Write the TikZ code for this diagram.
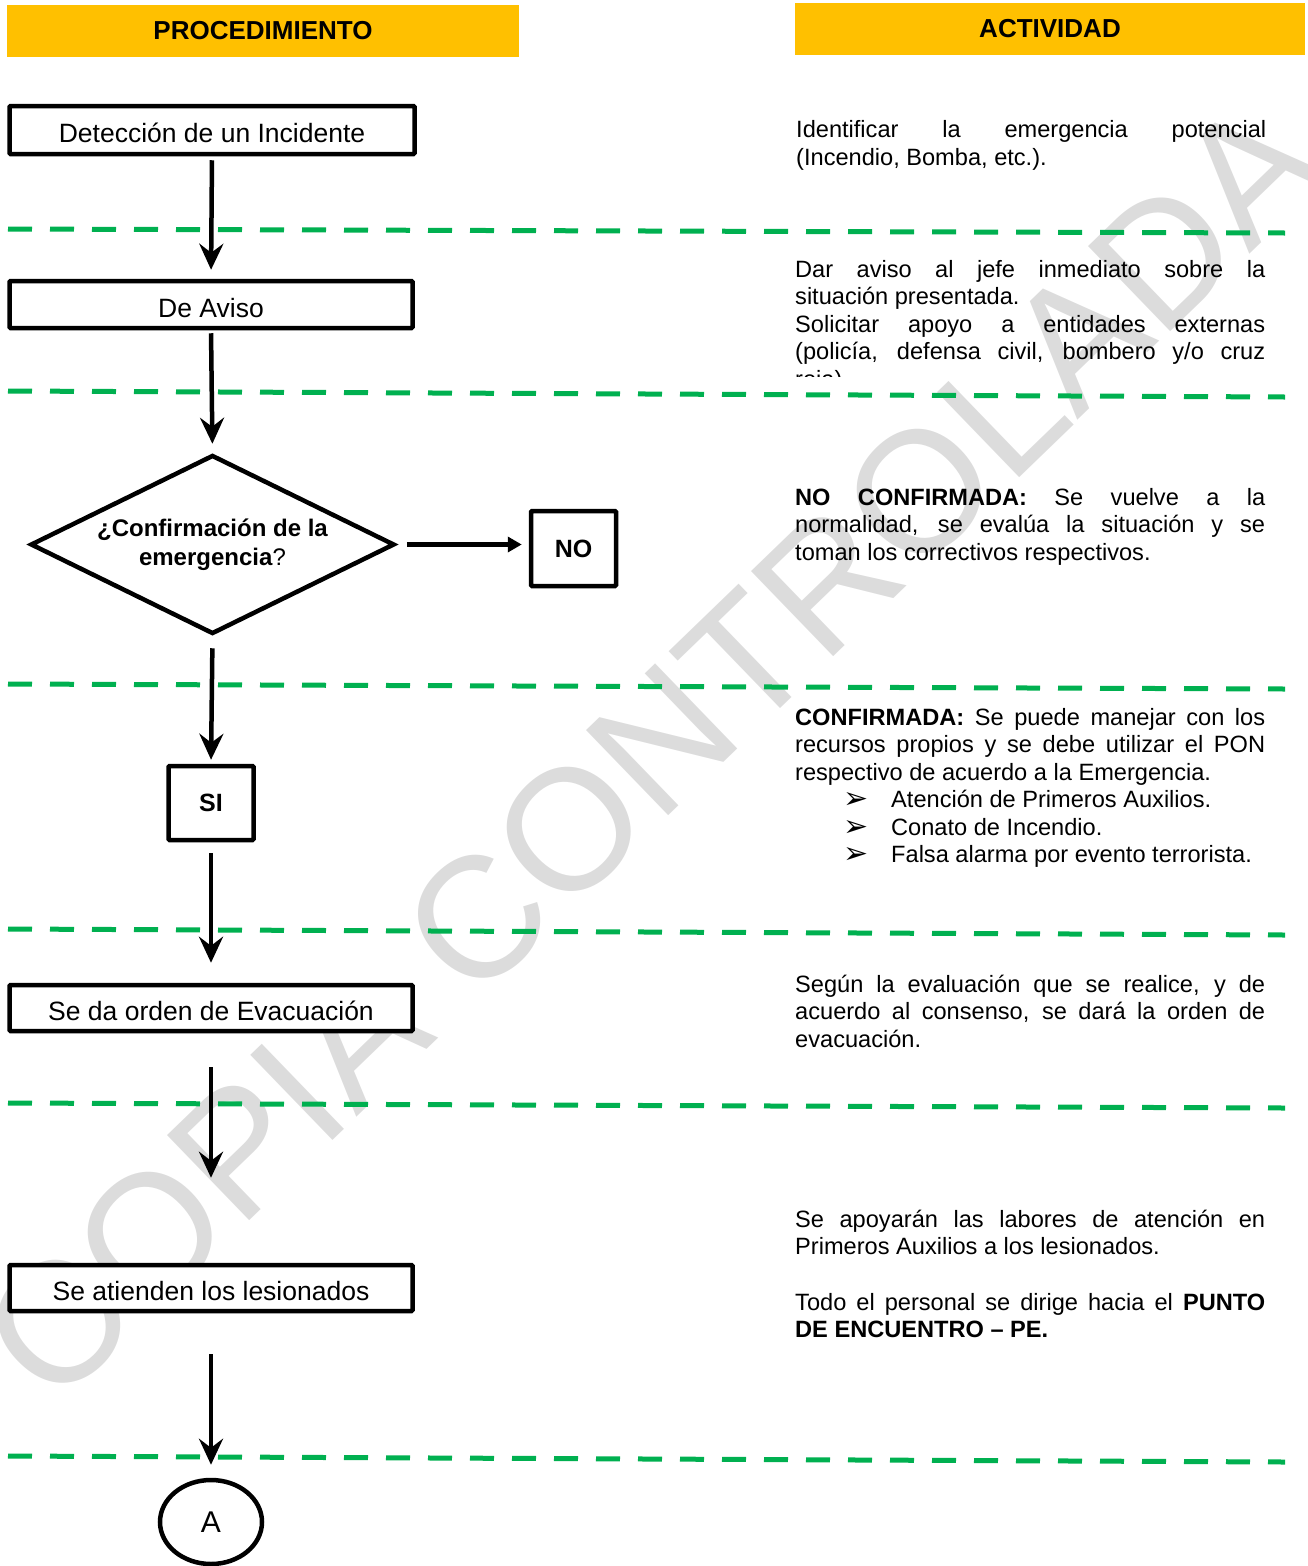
\documentclass[tikz,border=0pt]{standalone}
\usepackage{fontspec}
\setmainfont{Liberation Sans}
\newfontfamily\symbfont{DejaVu Sans}
\usetikzlibrary{shapes.geometric,arrows.meta}
\setlength{\parindent}{0pt}

\definecolor{headyellow}{HTML}{FFC000}
\definecolor{sepgreen}{HTML}{00B050}
\definecolor{markgray}{HTML}{DCDCDC}

\tikzset{
  procbox/.style={draw, line width=4.5pt, fill=white, rounded corners=1pt, minimum width=403pt, minimum height=47pt, inner sep=0pt, text height=25pt, text depth=0pt, font=\fontsize{26.5}{30}\selectfont},
  smallbox/.style={draw, line width=4.5pt, fill=white, rounded corners=1pt, minimum width=85pt, minimum height=75pt, inner sep=0pt, font=\fontsize{25}{30}\selectfont\bfseries},
  decision/.style={draw, diamond, shape aspect=2.03, line width=4.5pt, fill=white, minimum width=364pt, minimum height=179pt, inner sep=0pt, align=center, font=\fontsize{24}{29}\selectfont\bfseries},
  flow/.style={line width=4.5pt, -{Stealth[length=26pt,width=24pt,inset=9pt]}},
  sideflow/.style={line width=5pt, -{Triangle[length=14pt,width=15pt]}},
  separator/.style={sepgreen, line width=5pt, dash pattern=on 24pt off 18pt},
  header/.style={fill=headyellow, inner sep=0pt, minimum height=52pt, font=\fontsize{26}{30}\selectfont\bfseries},
  activity/.style={anchor=north west, inner sep=0pt, text width=470pt, align=justify, font=\fontsize{23.6}{27.5}\selectfont}
}

\newcommand{\arrowitem}[1]{\par\hspace*{48pt}\makebox[48pt][l]{\smash{\raisebox{-1pt}{\fontsize{30}{27.5}\selectfont\symbfont ➢}}}#1}

\begin{document}
\begin{tikzpicture}[x=1pt,y=-1pt]
    \useasboundingbox (0,0) rectangle (1308,1566);

    % Watermark
    \node[markgray, rotate=44, inner sep=0pt, font=\fontsize{172}{172}\selectfont] (watermark) at (652,750) {COPIA CONTROLADA};

    % Dashed separators
    \draw[separator] (8,229) -- (1285,233);
    \draw[separator] (8,391) -- (1285,397);
    \draw[separator] (8,684) -- (1285,689);
    \draw[separator] (8,929) -- (1285,935);
    \draw[separator] (8,1103) -- (1285,1108);
    \draw[separator] (8,1456) -- (1285,1462);

    % Column headers
    \node[header, minimum width=512pt] (procHead) at (263,31) {PROCEDIMIENTO};
    \node[header, minimum width=510pt] (actHead) at (1050,29) {ACTIVIDAD};

    % Procedure steps
    \node[procbox, minimum width=405pt, minimum height=48pt] (detect) at (212,130) {Detección de un Incidente};
    \node[procbox] (aviso) at (211,304.5) {De Aviso};
    \node[decision] (confirm) at (212.5,544.5) {¿Confirmación de la\\ emergencia\textmd{?}};
    \node[smallbox] (nobox) at (573.5,548.5) {NO};
    \node[smallbox, minimum height=74pt] (sibox) at (211,803) {SI};
    \node[procbox, minimum height=46pt] (evac) at (211,1008) {Se da orden de Evacuación};
    \node[procbox, minimum height=46pt] (lesion) at (211,1288) {Se atienden los lesionados};
    \node[draw, ellipse, line width=4.5pt, fill=white, minimum width=102pt, minimum height=84pt, inner sep=0pt, font=\fontsize{30}{30}\selectfont] (connA) at (211,1522) {A};

    % Flow arrows
    \draw[flow, shorten <=4pt, shorten >=9pt] (detect.south) -- (aviso.north);
    \draw[flow, shorten <=3pt, shorten >=9pt] (aviso.south) -- (confirm.north);
    \draw[flow, shorten <=12pt, shorten >=4pt] (confirm.south) -- (sibox.north);
    \draw[flow, shorten <=11pt, shorten >=20pt] (sibox.south) -- (evac.north);
    \draw[flow, shorten <=34pt, shorten >=85pt] (evac.south) -- (lesion.north);
    \draw[flow, shorten <=41pt, shorten >=13pt] (lesion.south) -- (connA.north);
    \draw[sideflow, shorten <=10pt, shorten >=7pt] (confirm.east) -- (confirm.east -| nobox.west);

    % Activity descriptions
    \node[activity] (act1) at (796,118.25) {\strut Identificar la emergencia potencial\linebreak (Incendio, Bomba, etc.).};
    \begin{scope}
        \clip (780,240) rectangle (1290,376);
        \node[activity] (act2) at (795,257.75) {\strut Dar aviso al jefe inmediato sobre la\linebreak situación presentada.\par
        Solicitar apoyo a entidades externas\linebreak (policía, defensa civil, bombero y/o cruz\linebreak roja).};
    \end{scope}
    \node[activity] (act3) at (795,485.75) {\strut\textbf{NO CONFIRMADA:} Se vuelve a la\linebreak normalidad, se evalúa la situación y se\linebreak toman los correctivos respectivos.};
    \node[activity] (act4) at (795,705.75) {\strut\textbf{CONFIRMADA:} Se puede manejar con los\linebreak recursos propios y se debe utilizar el PON\linebreak respectivo de acuerdo a la Emergencia.
        \arrowitem{Atención de Primeros Auxilios.}
        \arrowitem{Conato de Incendio.}
        \arrowitem{Falsa alarma por evento terrorista.}};
    \node[activity] (act5) at (795,972.75) {\strut Según la evaluación que se realice, y de\linebreak acuerdo al consenso, se dará la orden de\linebreak evacuación.};
    \node[activity] (act6) at (795,1207.75) {\strut Se apoyarán las labores de atención en\linebreak Primeros Auxilios a los lesionados.};
    \node[activity] (act7) at (795,1290.75) {\strut Todo el personal se dirige hacia el \textbf{PUNTO}\linebreak \textbf{DE ENCUENTRO – PE.}};

\end{tikzpicture}
\end{document}
